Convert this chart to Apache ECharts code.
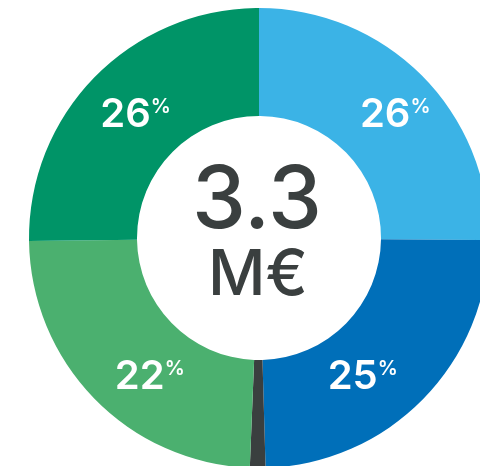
<!DOCTYPE html>
<html>
<head>
<meta charset="utf-8">
<script src="https://cdn.jsdelivr.net/npm/echarts@6/dist/echarts.min.js"></script>
<style>
  html, body { margin: 0; padding: 0; background: #fff; }
  #chart { width: 480px; height: 466px; }
</style>
</head>
<body>
<div id="chart"></div>
<script>
// budget split, M€
const categories = ['Segment A', 'Segment B', 'Other', 'Segment C', 'Segment D'];
const values = [0.83, 0.805, 0.036, 0.797, 0.832];
const shareLabels = ['26', '25', '', '22', '26'];
const totalText = '3.3';
const unitText = 'M€';

const colors = ['#3bb3e6', '#006fb9', '#3a3f3f', '#4bb06f', '#009467'];
// nudges so the labels sit where the original puts them
const labelOffsets = [[9, 3], [-24, 14], [0, 0], [19, 14], [4, 3]];

const chart = echarts.init(document.getElementById('chart'), null, { renderer: 'canvas' });

const option = {
  animation: false,
  backgroundColor: '#fff',
  graphic: [
    {
      type: 'text',
      x: 257,
      y: 202,
      style: {
        text: totalText,
        align: 'center',
        verticalAlign: 'middle',
        font: '500 86px Inter, Roboto, sans-serif',
        fill: '#3a3f3f'
      }
    },
    {
      type: 'text',
      x: 258,
      y: 276,
      style: {
        text: unitText,
        align: 'center',
        verticalAlign: 'middle',
        font: '500 63px Inter, Roboto, sans-serif',
        fill: '#3a3f3f'
      }
    }
  ],
  series: [{
    type: 'pie',
    center: [259, 238],
    radius: [122, 230],
    startAngle: 90,
    clockwise: true,
    silent: true,
    avoidLabelOverlap: false,
    labelLine: { show: false },
    label: {
      show: true,
      position: 'inside',
      formatter: function (p) {
        const t = shareLabels[p.dataIndex];
        return t ? '{v|' + t + '}{p|%}' : '';
      },
      rich: {
        v: {
          fontFamily: 'Inter, Roboto, sans-serif',
          fontWeight: 600,
          fontSize: 40,
          lineHeight: 40,
          color: '#fff'
        },
        p: {
          fontFamily: 'Inter, Roboto, sans-serif',
          fontWeight: 600,
          fontSize: 20,
          lineHeight: 20,
          verticalAlign: 'top',
          padding: [2, 0, 0, 0],
          color: '#fff'
        }
      }
    },
    itemStyle: { borderWidth: 0 },
    data: values.map(function (v, i) {
      return {
        name: categories[i],
        value: v,
        itemStyle: { color: colors[i] },
        label: { offset: labelOffsets[i] }
      };
    })
  }]
};

chart.setOption(option);
</script>
</body>
</html>
